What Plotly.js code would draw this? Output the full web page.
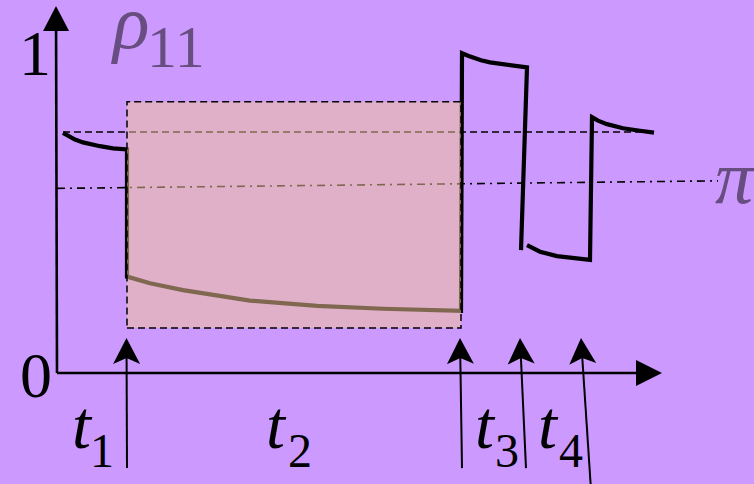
<!DOCTYPE html>
<html>
<head>
<meta charset="utf-8">
<script src="https://cdn.plot.ly/plotly-3.0.1.min.js"></script>
<style>
  html, body { margin: 0; padding: 0; background: #CC99FF; }
  #chart { width: 754px; height: 484px; }
</style>
</head>
<body>
<div id="chart"></div>
<script>
// Occupation rho_11 of level 1 under a sequence of pulses at t1..t4.

// Relaxation before t1, drop at t1, slow decay, jump at end of t2, decay, fall at t3
const timeA = [0.06, 0.11, 0.18, 0.26, 0.35, 0.43, 0.56, 0.70,
               0.70, 0.93, 1.26, 1.93, 2.60, 3.26, 4.04,
               4.05, 4.11, 4.16, 4.24, 4.33, 4.50, 4.70,
               4.64];
const rhoA  = [0.762, 0.752, 0.741, 0.732, 0.725, 0.720, 0.713, 0.710,
               0.306, 0.285, 0.263, 0.230, 0.213, 0.204, 0.197,
               1.015, 1.007, 1.001, 0.993, 0.986, 0.979, 0.970,
               0.390];

// Recovery after t3, jump at t4, relaxation towards equilibrium
const timeB = [4.70, 4.76, 4.83, 5.00, 5.16, 5.33,
               5.35, 5.41, 5.50, 5.57, 5.66, 5.83, 5.97];
const rhoB  = [0.406, 0.395, 0.385, 0.371, 0.364, 0.359,
               0.812, 0.801, 0.790, 0.783, 0.777, 0.769, 0.763];

// Equilibrium level (dashed) and pi reference (dash-dot)
const eqTime = [0.06, 5.90];
const eqRho  = [0.765, 0.765];
const piTime = [0.00, 6.61];
const piRho  = [0.586, 0.610];

// Highlighted interval t2
const windowTime = [0.70, 4.04];
const windowRho  = [0.143, 0.861];

// Pulse markers: tail and head of each arrow
const pulseTailT = [0.70, 4.05, 4.69, 5.34];
const pulseTailR = [-0.302, -0.302, -0.302, -0.371];
const pulseHeadT = [0.695, 4.03, 4.63, 5.24];
const pulseHeadR = [0.111, 0.111, 0.111, 0.111];

// Axis ends
const axisTopRho = 1.165;
const axisEndTime = 6.05;

// Labels
const tLabels   = ['1', '2', '3', '4'];
const tLabelT   = [0.255, 2.19, 4.28, 4.915];
const tSubT     = [0.445, 2.43, 4.495, 5.14];

const xRange = [-0.57, 6.97];
const yRange = [-0.3524, 1.1841];
const W = 754, H = 484;
const kx = W / (xRange[1] - xRange[0]);
const ky = H / (yRange[1] - yRange[0]);

const purple = '#674D80';
const serif = 'Liberation Serif, Times New Roman, serif';

// Arrowhead path in data coordinates, shaped in pixel space
function headPath(x0, y0, x1, y1, len, hw, notch) {
  const dx = (x1 - x0) * kx, dy = (y1 - y0) * ky;
  const L = Math.hypot(dx, dy);
  const ux = dx / L, uy = dy / L;
  const nx = -uy, ny = ux;
  const pt = (a, b) => [x1 + a / kx, y1 + b / ky];
  const w1 = pt(-ux * len + nx * hw, -uy * len + ny * hw);
  const w2 = pt(-ux * len - nx * hw, -uy * len - ny * hw);
  const nt = pt(-ux * notch, -uy * notch);
  return {
    path: `M${x1},${y1} L${w1[0]},${w1[1]} L${nt[0]},${nt[1]} L${w2[0]},${w2[1]} Z`,
    neck: nt
  };
}

const shapes = [];

// Axes
const yHead = headPath(0, 0, -0.01, axisTopRho, 25, 13, 25);
shapes.push({type: 'line', xref: 'x', yref: 'y', x0: 0, y0: 0,
  x1: yHead.neck[0], y1: yHead.neck[1], line: {color: '#000', width: 2.6}, layer: 'above'});
shapes.push({type: 'path', xref: 'x', yref: 'y', path: yHead.path,
  fillcolor: '#000', line: {width: 0}, layer: 'above'});
const xHead = headPath(0, 0, axisEndTime, 0, 26, 13, 26);
shapes.push({type: 'line', xref: 'x', yref: 'y', x0: 0, y0: 0,
  x1: xHead.neck[0], y1: xHead.neck[1], line: {color: '#000', width: 2.6}, layer: 'above'});
shapes.push({type: 'path', xref: 'x', yref: 'y', path: xHead.path,
  fillcolor: '#000', line: {width: 0}, layer: 'above'});

// Pulse arrows
for (let i = 0; i < pulseTailT.length; i++) {
  const h = headPath(pulseTailT[i], pulseTailR[i], pulseHeadT[i], pulseHeadR[i], 26, 13.5, 20);
  shapes.push({type: 'line', xref: 'x', yref: 'y', x0: pulseTailT[i], y0: pulseTailR[i],
    x1: h.neck[0], y1: h.neck[1], line: {color: '#000', width: 2}, layer: 'above'});
  shapes.push({type: 'path', xref: 'x', yref: 'y', path: h.path,
    fillcolor: '#000', line: {width: 0}, layer: 'above'});
}

// Translucent window over the t2 interval
shapes.push({type: 'rect', xref: 'x', yref: 'y',
  x0: windowTime[0], x1: windowTime[1], y0: windowRho[0], y1: windowRho[1],
  fillcolor: 'rgba(241,196,151,0.53)',
  line: {color: '#000', width: 1.5, dash: '7px,4px'}, layer: 'above'});

const traces = [
  {x: eqTime, y: eqRho, mode: 'lines', line: {color: '#000', width: 1.6, dash: '7px,4px'}},
  {x: piTime, y: piRho, mode: 'lines', line: {color: '#000', width: 1.6, dash: '8px,5px,2px,5px'}},
  {x: timeA, y: rhoA, mode: 'lines', line: {color: '#000', width: 4.2}},
  {x: timeB, y: rhoB, mode: 'lines', line: {color: '#000', width: 4.2}}
];

const ann = (x, y, text, size, color, italic, xanchor) => ({
  x, y, xref: 'x', yref: 'y', text: italic ? `<i>${text}</i>` : text,
  showarrow: false, xanchor: xanchor || 'center', yanchor: 'middle',
  font: {family: serif, size, color}
});

const annotations = [
  ann(-0.22, 1.015, '1', 64, '#000', false),
  ann(-0.21, -0.008, '0', 64, '#000', false),
  ann(0.73, 1.113, 'ρ', 76, purple, true),
  ann(1.19, 1.036, '11', 60, purple, false),
  ann(6.56, 0.621, 'π', 76, purple, true, 'left')
];
for (let i = 0; i < tLabels.length; i++) {
  annotations.push(ann(tLabelT[i], -0.165, 't', 68, '#000', true));
  annotations.push(ann(tSubT[i], -0.247, tLabels[i], 48, '#000', false));
}

const layout = {
  width: W, height: H,
  margin: {l: 0, r: 0, t: 0, b: 0, pad: 0},
  paper_bgcolor: '#CC99FF', plot_bgcolor: '#CC99FF',
  showlegend: false,
  xaxis: {range: xRange, visible: false, fixedrange: true},
  yaxis: {range: yRange, visible: false, fixedrange: true},
  shapes, annotations
};

Plotly.newPlot('chart', traces, layout, {staticPlot: true, displayModeBar: false});
</script>
</body>
</html>
